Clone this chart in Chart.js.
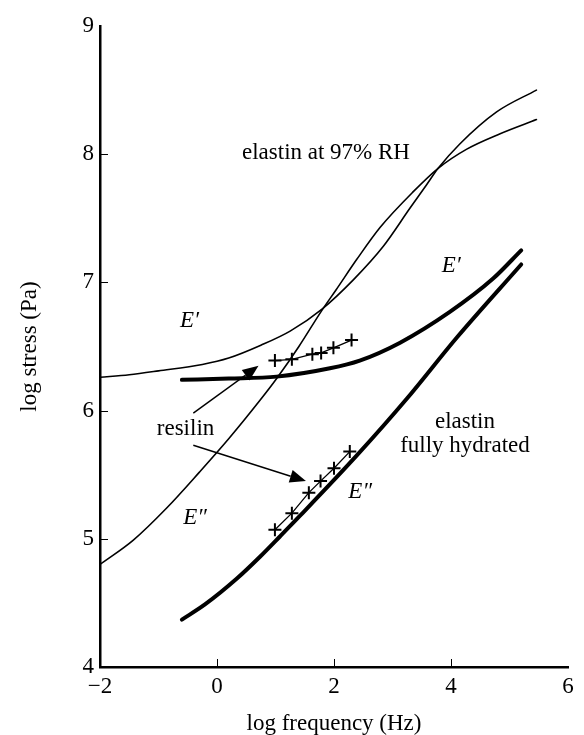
<!DOCTYPE html>
<html>
<head>
<meta charset="utf-8">
<script src="https://cdn.jsdelivr.net/npm/chart.js@4.4.1/dist/chart.umd.min.js"></script>
<style>
  html, body { margin: 0; padding: 0; background: #fff; }
  #wrap { width: 584px; height: 735px; }
</style>
</head>
<body>
<div id="wrap"><canvas id="chart" width="584" height="735"></canvas></div>
<script>
// axis ticks
const xTicks = [-2, 0, 2, 4, 6];
const yTicks = [4, 5, 6, 7, 8, 9];

// elastin at 97% RH (thin curves)
const rhStorageX = [-2, -1.5, -1, -0.25, 0.2, 0.75, 1.25, 1.79, 2.33, 2.84, 3.30, 3.58, 3.78, 4.15, 4.78, 5.46];
const rhStorageY = [6.26, 6.28, 6.31, 6.36, 6.41, 6.51, 6.62, 6.79, 7.02, 7.28, 7.58, 7.76, 7.89, 8.08, 8.33, 8.50];
const rhLossX = [-2, -1.43, -0.86, -0.3, 0.2, 0.735, 1.02, 1.4, 1.79, 2.04, 2.39, 2.79, 3.36, 3.78, 4.27, 4.84, 5.46];
const rhLossY = [4.80, 4.99, 5.24, 5.52, 5.78, 6.08, 6.25, 6.50, 6.78, 6.945, 7.18, 7.43, 7.71, 7.89, 8.04, 8.16, 8.27];

// elastin fully hydrated (thick curves)
const wetStorageX = [-0.6, 0.2, 1.02, 1.93, 2.44, 3.13, 3.98, 4.72, 5.20];
const wetStorageY = [6.24, 6.25, 6.265, 6.33, 6.39, 6.53, 6.77, 7.03, 7.25];
const wetLossX = [-0.6, -0.2, 0.34, 0.735, 1.08, 1.42, 2.39, 3.24, 4.10, 5.20];
const wetLossY = [4.37, 4.49, 4.69, 4.86, 5.02, 5.18, 5.65, 6.09, 6.57, 7.14];

// resilin measurements (crosses)
const resStorageX = [0.99, 1.28, 1.63, 1.78, 1.99, 2.30];
const resStorageY = [6.39, 6.40, 6.44, 6.45, 6.49, 6.55];
const resLossX = [0.99, 1.28, 1.57, 1.77, 2.00, 2.27];
const resLossY = [5.07, 5.20, 5.36, 5.45, 5.55, 5.68];

// "resilin" pointer arrows: [fromX, fromY, toX, toY]
const arrows = [
  [-0.405, 5.98, 0.71, 6.35],
  [-0.405, 5.73, 1.52, 5.45]
];

// text placed in data space (baseline anchored)
const notes = [
  { text: 'elastin at 97% RH', x: 1.863, y: 7.963, align: 'center' },
  { text: 'E\u2032', x: -0.632, y: 6.65, align: 'left', italic: true },
  { text: 'E\u2033', x: -0.576, y: 5.115, align: 'left', italic: true },
  { text: 'E\u2032', x: 3.84, y: 7.083, align: 'left', italic: true },
  { text: 'E\u2033', x: 2.245, y: 5.321, align: 'left', italic: true },
  { text: 'resilin', x: -0.538, y: 5.81, align: 'center' },
  { text: 'elastin', x: 4.239, y: 5.862, align: 'center' },
  { text: 'fully hydrated', x: 4.239, y: 5.679, align: 'center' }
];

const FONT = "'Liberation Serif', 'Times New Roman', serif";
const FS = 23;

function pts(xs, ys) {
  return xs.map((x, i) => ({ x, y: ys[i] }));
}

function curve(xs, ys, width) {
  return {
    data: pts(xs, ys),
    showLine: true,
    borderColor: '#000',
    borderWidth: width,
    borderCapStyle: 'round',
    borderJoinStyle: 'round',
    pointRadius: 0,
    cubicInterpolationMode: 'monotone'
  };
}

function crosses(xs, ys) {
  return {
    data: pts(xs, ys),
    showLine: true,
    borderColor: '#000',
    borderWidth: 1.3,
    tension: 0,
    pointStyle: 'cross',
    pointRadius: 6.5,
    pointBorderWidth: 2,
    pointBorderColor: '#000'
  };
}

function fmtTick(v) {
  return v < 0 ? '\u2212' + Math.abs(v) : String(v);
}

// inward tick marks on both axes, skipping the ends
const innerTicks = {
  id: 'innerTicks',
  afterDraw(chart) {
    const { ctx, scales: { x, y }, chartArea } = chart;
    ctx.save();
    ctx.strokeStyle = '#000';
    ctx.lineWidth = 1;
    ctx.beginPath();
    xTicks.slice(1, -1).forEach(v => {
      const px = Math.round(x.getPixelForValue(v)) + 0.5;
      ctx.moveTo(px, chartArea.bottom);
      ctx.lineTo(px, chartArea.bottom - 8);
    });
    yTicks.slice(1, -1).forEach(v => {
      const py = Math.round(y.getPixelForValue(v)) + 0.5;
      ctx.moveTo(chartArea.left, py);
      ctx.lineTo(chartArea.left + 8, py);
    });
    ctx.stroke();
    ctx.restore();
  }
};

// arrows and text labels
const annotations = {
  id: 'annotations',
  afterDatasetsDraw(chart) {
    const { ctx, scales: { x, y } } = chart;
    ctx.save();
    ctx.fillStyle = '#000';
    ctx.strokeStyle = '#000';

    arrows.forEach(([x0, y0, x1, y1]) => {
      const ax = x.getPixelForValue(x0), ay = y.getPixelForValue(y0);
      const bx = x.getPixelForValue(x1), by = y.getPixelForValue(y1);
      const ang = Math.atan2(by - ay, bx - ax);
      const len = 16, half = 6.5;
      const cx = bx - len * Math.cos(ang), cy = by - len * Math.sin(ang);
      ctx.lineWidth = 1.4;
      ctx.beginPath();
      ctx.moveTo(ax, ay);
      ctx.lineTo(cx, cy);
      ctx.stroke();
      ctx.beginPath();
      ctx.moveTo(bx, by);
      ctx.lineTo(cx + half * Math.sin(ang), cy - half * Math.cos(ang));
      ctx.lineTo(cx - half * Math.sin(ang), cy + half * Math.cos(ang));
      ctx.closePath();
      ctx.fill();
    });

    ctx.textBaseline = 'alphabetic';
    notes.forEach(n => {
      ctx.font = (n.italic ? 'italic ' : '') + FS + 'px ' + FONT;
      ctx.textAlign = n.align;
      ctx.fillText(n.text, x.getPixelForValue(n.x), y.getPixelForValue(n.y));
    });
    ctx.restore();
  }
};

new Chart(document.getElementById('chart'), {
  type: 'scatter',
  data: {
    datasets: [
      curve(wetStorageX, wetStorageY, 4),
      curve(wetLossX, wetLossY, 4),
      curve(rhStorageX, rhStorageY, 1.6),
      curve(rhLossX, rhLossY, 1.6),
      crosses(resStorageX, resStorageY),
      crosses(resLossX, resLossY)
    ]
  },
  options: {
    responsive: false,
    animation: false,
    layout: { padding: { top: 26, right: 16, left: 0, bottom: 0 } },
    plugins: { legend: { display: false }, tooltip: { enabled: false } },
    scales: {
      x: {
        type: 'linear',
        min: -2,
        max: 6,
        afterBuildTicks: s => { s.ticks = xTicks.map(v => ({ value: v })); },
        afterFit: s => { s.height = 68; },
        grid: { display: false, drawTicks: false },
        border: { display: true, color: '#000', width: 2.5 },
        ticks: {
          color: '#000',
          font: { family: FONT, size: FS },
          padding: 6,
          maxRotation: 0,
          autoSkip: false,
          callback: fmtTick
        },
        title: {
          display: true,
          text: 'log frequency (Hz)',
          color: '#000',
          font: { family: FONT, size: FS, lineHeight: 1 },
          padding: { top: 0, bottom: 0 }
        }
      },
      y: {
        type: 'linear',
        min: 4,
        max: 9,
        afterBuildTicks: s => { s.ticks = yTicks.map(v => ({ value: v })); },
        afterFit: s => { s.width = 100; },
        grid: { display: false, drawTicks: false },
        border: { display: true, color: '#000', width: 2.5 },
        ticks: {
          color: '#000',
          font: { family: FONT, size: FS },
          padding: 6,
          autoSkip: false,
          callback: fmtTick
        },
        title: {
          display: true,
          text: 'log stress (Pa)',
          color: '#000',
          font: { family: FONT, size: FS, lineHeight: 1 },
          padding: { top: 18, bottom: 0 }
        }
      }
    }
  },
  plugins: [innerTicks, annotations]
});
</script>
</body>
</html>
